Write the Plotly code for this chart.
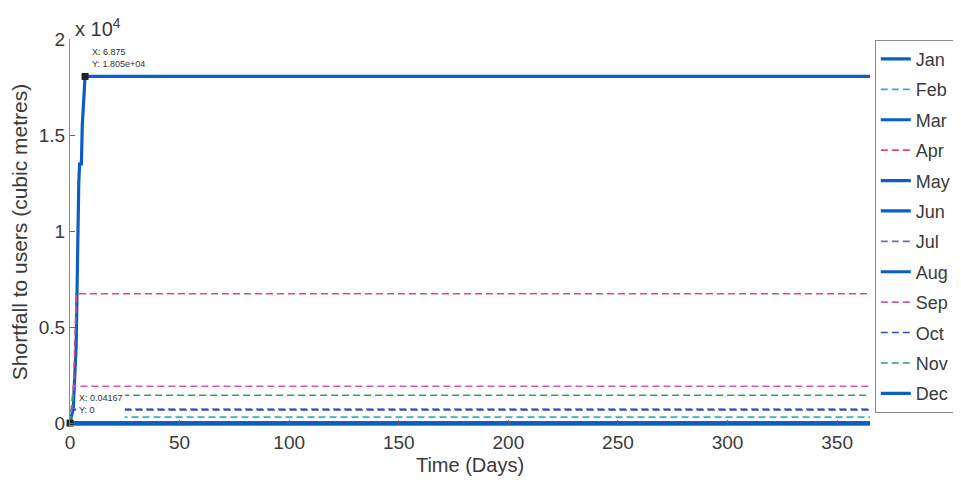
import plotly.graph_objects as go

# ---------------- data ----------------
months = ["Jan", "Feb", "Mar", "Apr", "May", "Jun", "Jul", "Aug", "Sep", "Oct", "Nov", "Dec"]

jan_days = [0, 0.04167, 1.5, 2.8, 3.3, 4.0, 4.4, 5.2, 5.6, 6.2, 6.875, 365]
jan_vals = [0, 0, 800, 4000, 9000, 12500, 13500, 13500, 15500, 17000, 18050, 18050]

feb_days = [0, 0.04167, 0.8, 365]
feb_vals = [0, 0, 312, 312]

zero_days = [0, 365]
zero_vals = [0, 0]

apr_days = [0, 0.04167, 1.5, 2.4, 3.0, 365]
apr_vals = [0, 0, 1500, 5000, 6736, 6736]

jul_days = [0, 0.04167, 1.0, 365]
jul_vals = [0, 0, 730, 730]

sep_days = [0, 0.04167, 1.2, 1.5, 365]
sep_vals = [0, 0, 1400, 1914, 1914]

oct_days = [0, 0.04167, 1.0, 365]
oct_vals = [0, 0, 690, 690]

nov_days = [0, 0.04167, 1.2, 1.4, 365]
nov_vals = [0, 0, 1200, 1446, 1446]

x_ticks = [0, 50, 100, 150, 200, 250, 300, 350]
y_ticks = [0, 5000, 10000, 15000, 20000]
y_ticktext = ["0", "0.5", "1", "1.5", "2"]

tip1 = (6.875, 18050)
tip2 = (0.04167, 0)

# ---------------- styles ----------------
BLUE = "#0b5ec6"
series = [
    ("Jan", jan_days, jan_vals, BLUE, "solid", 3.2),
    ("Feb", feb_days, feb_vals, "#3aa8d8", "7px,4px", 1.6),
    ("Mar", zero_days, zero_vals, BLUE, "solid", 3.2),
    ("Apr", apr_days, apr_vals, "#e04a78", "7px,4px", 1.6),
    ("May", zero_days, zero_vals, BLUE, "solid", 3.2),
    ("Jun", zero_days, zero_vals, BLUE, "solid", 3.2),
    ("Jul", jul_days, jul_vals, "#6c6cc8", "7px,4px", 1.6),
    ("Aug", zero_days, zero_vals, BLUE, "solid", 3.2),
    ("Sep", sep_days, sep_vals, "#e052b2", "7px,4px", 1.6),
    ("Oct", oct_days, oct_vals, "#2a52b8", "7px,4px", 1.6),
    ("Nov", nov_days, nov_vals, "#3c9a6c", "7px,4px", 1.6),
    ("Dec", zero_days, zero_vals, BLUE, "solid", 3.2),
]

fig = go.Figure()
for name, xs, ys, col, dash, w in series:
    fig.add_trace(go.Scatter(
        x=xs, y=ys, mode="lines", name=name, legendgroup=name,
        line=dict(color=col, dash=dash, width=w),
    ))

# datatip markers
fig.add_trace(go.Scatter(
    x=[tip1[0], tip2[0]], y=[tip1[1], tip2[1]], mode="markers",
    marker=dict(symbol="square", size=7, color="#222"),
    showlegend=False, cliponaxis=False,
))

FONT = "Liberation Sans, Arial, sans-serif"
TXT = "#3a3a3a"

# the page body adds an 8px offset, so the figure is 8px smaller than the window
fig.update_layout(
    width=953, height=481,
    margin=dict(l=62, r=91, t=31, b=64, autoexpand=False),
    paper_bgcolor="white", plot_bgcolor="white",
    font=dict(family=FONT, color=TXT),
    showlegend=True,
    legend=dict(
        x=1.006, xanchor="left", y=0.998, yanchor="top",
        bordercolor="#8a8a8a", borderwidth=1, bgcolor="white",
        font=dict(size=18, color=TXT, family=FONT),
        tracegroupgap=4, traceorder="grouped",
        itemwidth=30, maxheight=450,
    ),
    xaxis=dict(
        range=[0, 365], tickvals=x_ticks, ticks="inside", ticklen=5,
        tickcolor="#666", showline=True, linecolor="#8a8a8a", linewidth=1,
        showgrid=False, zeroline=False, automargin=False,
        tickfont=dict(size=19, color=TXT),
        title=dict(text="Time (Days)", font=dict(size=20, color=TXT), standoff=6),
    ),
    yaxis=dict(
        range=[-100, 20000], tickvals=y_ticks, ticktext=y_ticktext,
        ticks="inside", ticklen=5, tickcolor="#666",
        showline=True, linecolor="#8a8a8a", linewidth=1,
        showgrid=False, zeroline=False, automargin=False,
        tickfont=dict(size=19, color=TXT),
        title=dict(text="Shortfall to users (cubic metres)", font=dict(size=21, color=TXT), standoff=6),
    ),
    shapes=[
        dict(type="rect", xref="x", yref="y", x0=2.7, x1=25.0, y0=150, y1=1700,
             fillcolor="white", line=dict(width=0), layer="above"),
    ],
    annotations=[
        dict(xref="paper", yref="paper", x=0, y=1, xanchor="left", yanchor="bottom",
             xshift=3, yshift=-3, showarrow=False,
             text="x 10<sup>4</sup>", font=dict(size=20, color=TXT)),
        dict(xref="x", yref="y", x=tip1[0], y=tip1[1], xanchor="left", yanchor="bottom",
             xshift=5, yshift=5, showarrow=False, align="left",
             text="X: 6.875<br>Y: 1.805e+04", font=dict(size=9, color="#333")),
        dict(xref="x", yref="y", x=2.7, y=1000, xanchor="left", yanchor="middle",
             xshift=1, showarrow=False, align="left",
             text="X: 0.04167<br>Y: 0", font=dict(size=9, color="#333")),
    ],
)

fig.write_html("out.html")
